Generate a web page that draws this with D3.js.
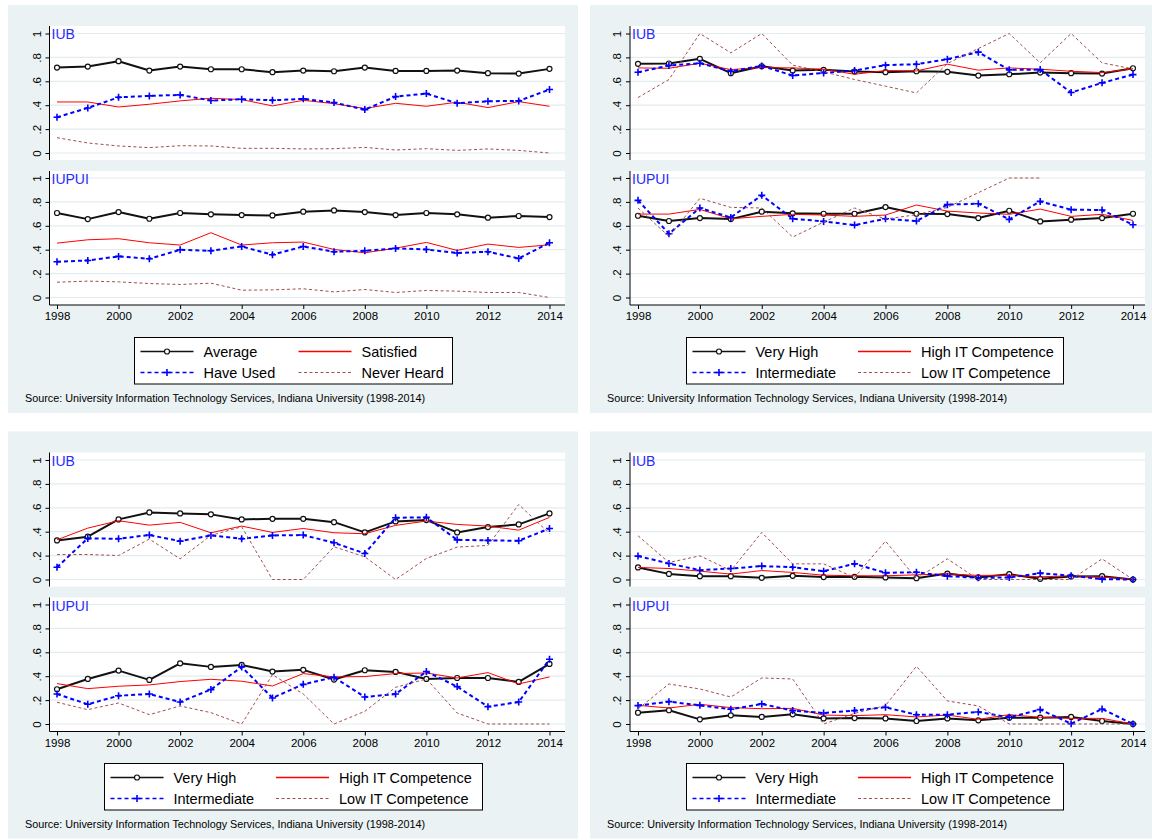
<!DOCTYPE html>
<html><head><meta charset="utf-8">
<script src="https://cdn.jsdelivr.net/npm/d3@7"></script>
<style>body{margin:0;background:#fff} svg{display:block} text{font-family:Arial,"Liberation Sans",sans-serif}</style>
</head><body><svg id="c" width="1152" height="840"></svg>
<script>
// ---------------- DATA ----------------
const years = [1998,1999,2000,2001,2002,2003,2004,2005,2006,2007,2008,2009,2010,2011,2012,2013,2014];
const xTicks = [1998,2000,2002,2004,2006,2008,2010,2012,2014];
const yTicks = [0,0.2,0.4,0.6,0.8,1];
const yTickLabels = ["0",".2",".4",".6",".8","1"];
const campuses = ["IUB","IUPUI"];
const usageLabels = ["Average","Satisfied","Have Used","Never Heard"];
const competenceLabels = ["Very High","High IT Competence","Intermediate","Low IT Competence"];
const sourceText = "Source: University Information Technology Services, Indiana University (1998-2014)";

// Panel A (top-left): usage
const aIUB_average   = [.715,.723,.768,.690,.723,.701,.701,.676,.690,.684,.715,.687,.687,.690,.668,.665,.704];
const aIUB_satisfied = [.427,.427,.385,.408,.436,.458,.447,.394,.441,.413,.372,.416,.391,.425,.380,.430,.391];
const aIUB_haveUsed  = [.299,.377,.466,.478,.486,.439,.450,.441,.453,.422,.363,.472,.497,.416,.433,.436,.531];
const aIUB_never     = [.128,.084,.059,.045,.061,.059,.039,.039,.034,.036,.047,.025,.036,.022,.034,.022,0];
const aIUPUI_average   = [.707,.656,.715,.659,.707,.696,.690,.687,.718,.729,.715,.690,.707,.696,.668,.682,.673];
const aIUPUI_satisfied = [.455,.483,.492,.458,.439,.542,.439,.458,.464,.402,.374,.413,.461,.394,.447,.419,.441];
const aIUPUI_haveUsed  = [.299,.310,.344,.324,.399,.391,.427,.358,.427,.383,.391,.411,.402,.372,.383,.327,.458];
const aIUPUI_never     = [.128,.137,.131,.117,.109,.120,.061,.064,.073,.047,.067,.042,.059,.053,.042,.042,0];

// Panel B (top-right)
const bIUB_veryHigh = [.746,.749,.788,.668,.726,.690,.696,.682,.676,.684,.679,.648,.659,.673,.668,.665,.709];
const bIUB_high     = [.712,.709,.751,.698,.715,.712,.701,.659,.690,.687,.743,.693,.712,.701,.684,.673,.704];
const bIUB_inter    = [.676,.732,.751,.684,.729,.648,.670,.690,.735,.743,.785,.844,.696,.698,.506,.587,.656];
const bIUB_low      = [.464,.615,1,.838,1,.735,.679,.615,.559,.503,.749,.874,1,.754,1,.754,.704];
const bIUPUI_veryHigh = [.684,.640,.665,.656,.718,.704,.701,.701,.757,.701,.698,.665,.726,.637,.651,.665,.701];
const bIUPUI_high     = [.698,.698,.737,.659,.679,.696,.690,.679,.690,.774,.723,.707,.696,.740,.679,.696,.645];
const bIUPUI_inter    = [.813,.534,.749,.670,.855,.659,.637,.606,.659,.640,.777,.785,.654,.804,.735,.732,.609];
const bIUPUI_low      = [.749,.511,.830,.754,.749,.506,.631,.749,.656,.693,.754,.877,1,1,null,null,null];

// Panel C (bottom-left)
const cIUB_veryHigh = [.327,.358,.503,.561,.553,.545,.503,.508,.508,.480,.394,.486,.497,.394,.439,.461,.553];
const cIUB_high     = [.332,.430,.492,.455,.478,.391,.447,.394,.427,.391,.383,.453,.489,.461,.447,.413,.520];
const cIUB_inter    = [.103,.344,.341,.372,.321,.369,.341,.369,.372,.307,.218,.517,.520,.332,.327,.324,.427];
const cIUB_low      = [.209,.209,.201,.338,.173,.369,.441,0,0,.274,.190,0,.176,.271,.285,.628,.385];
const cIUPUI_veryHigh = [.291,.377,.447,.369,.508,.478,.494,.439,.453,.372,.450,.436,.377,.385,.385,.352,.503];
const cIUPUI_high     = [.338,.296,.316,.327,.355,.374,.358,.318,.422,.394,.397,.422,.427,.385,.430,.335,.394];
const cIUPUI_inter    = [.251,.165,.237,.251,.184,.288,.478,.218,.332,.391,.226,.251,.439,.313,.145,.184,.542];
const cIUPUI_low      = [.182,.120,.176,.078,.151,.095,0,.413,.251,0,.106,.307,.377,.092,0,0,0];

// Panel D (bottom-right)
const dIUB_veryHigh = [.101,.047,.028,.028,.014,.031,.020,.022,.017,.011,.050,.017,.045,.006,.025,.028,0];
const dIUB_high     = [.101,.092,.070,.045,.075,.059,.036,.031,.031,.039,.047,.034,.036,.022,.031,.020,.003];
const dIUB_inter    = [.196,.134,.078,.092,.112,.103,.070,.131,.056,.061,.028,.014,.017,.053,.031,.003,0];
const dIUB_low      = [.366,.142,.198,.075,.394,.131,.131,.017,.321,.008,.173,0,0,0,0,.173,0];
const dIUPUI_veryHigh = [.095,.115,.039,.073,.059,.081,.047,.050,.047,.025,.047,.031,.053,.053,.059,.025,0];
const dIUPUI_high     = [.156,.134,.165,.137,.128,.131,.075,.070,.078,.059,.075,.039,.078,.056,.047,.047,0];
const dIUPUI_inter    = [.154,.187,.156,.123,.168,.112,.092,.112,.140,.078,.078,.101,.056,.120,.003,.126,0];
const dIUPUI_low      = [.126,.335,.293,.226,.385,.377,0,.089,.154,.483,.193,.151,0,0,0,0,0];

// ---------------- STYLE / LAYOUT ----------------
const styles = [
  {color:"#111", width:2, dash:null, marker:"circle", lw:1.6},
  {color:"#ff0000", width:1, dash:null, marker:null, lw:1.4},
  {color:"#0000ff", width:2, dash:"4,3", marker:"plus", lw:1.5},
  {color:"#a44e4e", width:1, dash:"3,2.5", marker:null, lw:1}
];
const BG = "#eaf2f3", GRID = "#e3ecee";

const panels = [
  {bx:8, by:5, bw:570, bh:408, axisX:49.5, plotR:565, x0:57, x1:549.5, dy:0, ldy:0,
   legend:{x:134.5, w:318, col2:158}, srcX:25, labels:usageLabels,
   series:[[aIUB_average,aIUB_satisfied,aIUB_haveUsed,aIUB_never],[aIUPUI_average,aIUPUI_satisfied,aIUPUI_haveUsed,aIUPUI_never]]},
  {bx:590, by:5, bw:562, bh:408, axisX:630, plotR:1145, x0:638, x1:1133, dy:0, ldy:0,
   legend:{x:686.5, w:377, col2:165.5}, srcX:607, labels:competenceLabels,
   series:[[bIUB_veryHigh,bIUB_high,bIUB_inter,bIUB_low],[bIUPUI_veryHigh,bIUPUI_high,bIUPUI_inter,bIUPUI_low]]},
  {bx:8, by:431.5, bw:570, bh:407, axisX:49.5, plotR:565, x0:57, x1:549.5, dy:426.5, ldy:426,
   legend:{x:104.5, w:378, col2:165.5}, srcX:25, labels:competenceLabels,
   series:[[cIUB_veryHigh,cIUB_high,cIUB_inter,cIUB_low],[cIUPUI_veryHigh,cIUPUI_high,cIUPUI_inter,cIUPUI_low]]},
  {bx:590, by:431.5, bw:562, bh:407, axisX:630, plotR:1145, x0:638, x1:1133, dy:426.5, ldy:426,
   legend:{x:686.5, w:377, col2:165.5}, srcX:607, labels:competenceLabels,
   series:[[dIUB_veryHigh,dIUB_high,dIUB_inter,dIUB_low],[dIUPUI_veryHigh,dIUPUI_high,dIUPUI_inter,dIUPUI_low]]}
];
// sub-plot vertical geometry (top panels; bottom panels offset by dy)
const subs = [{top:26, bot:160, y1:33.5, y0:153},{top:171, bot:305, y1:178, y0:297.5}];

const svg = d3.select("#c");

function drawMarker(g, type, x, y, st){
  if(type==="circle"){
    g.append("circle").attr("cx",x).attr("cy",y).attr("r",2.5)
     .attr("fill","#fff").attr("stroke",st.color).attr("stroke-width",1.2);
  } else if(type==="plus"){
    g.append("path").attr("d",`M${x-3.5},${y}H${x+3.5}M${x},${y-3.5}V${y+3.5}`)
     .attr("stroke",st.color).attr("stroke-width",1.6).attr("fill","none");
  }
}

panels.forEach(p=>{
  const G = svg.append("g");
  G.append("rect").attr("x",p.bx).attr("y",p.by).attr("width",p.bw).attr("height",p.bh).attr("fill",BG);
  const x = d3.scaleLinear().domain([years[0], years[years.length-1]]).range([p.x0,p.x1]);

  subs.forEach((s,si)=>{
    const top = s.top+p.dy, bot = s.bot+p.dy;
    const y = d3.scaleLinear().domain([0,1]).range([s.y0+p.dy, s.y1+p.dy]);
    const g = G.append("g");
    g.append("rect").attr("x",p.axisX).attr("y",top).attr("width",p.plotR-p.axisX).attr("height",bot-top).attr("fill","#fff");
    // gridlines
    g.selectAll(".grid").data(yTicks).join("line")
      .attr("x1",p.axisX).attr("x2",p.plotR)
      .attr("y1",d=>y(d)).attr("y2",d=>y(d))
      .attr("stroke",GRID).attr("stroke-width",1.2);
    // y axis
    const ya = d3.axisLeft(y).tickValues(yTicks).tickSize(4).tickFormat((d,i)=>yTickLabels[i]);
    const yag = g.append("g").attr("transform",`translate(${p.axisX},0)`).call(ya);
    yag.select(".domain").attr("d",`M0,${top}V${bot}`).attr("stroke","#000");
    yag.selectAll(".tick line").attr("stroke","#000");
    yag.selectAll(".tick text").attr("font-size","11.5px").attr("fill","#000")
      .attr("x",null).attr("dy",null).attr("text-anchor","middle")
      .attr("transform","translate(-9,0) rotate(-90)");
    // x axis for lower subplot
    if(si===1){
      const xa = d3.axisBottom(x).tickValues(xTicks).tickSize(4).tickFormat(d3.format("d"));
      const xag = g.append("g").attr("transform",`translate(0,${bot})`).call(xa);
      xag.select(".domain").attr("d",`M${p.axisX},0H${p.plotR}`).attr("stroke","#000");
      xag.selectAll(".tick line").attr("stroke","#000");
      xag.selectAll(".tick text").attr("font-size","11.5px").attr("fill","#000").attr("y",7).attr("dy","0.71em");
    }
    // series
    p.series[si].forEach((vals,k)=>{
      const st = styles[k];
      const pts = years.map((yr,i)=>({yr, v:vals[i]}));
      const line = d3.line().defined(d=>d.v!==null).x(d=>x(d.yr)).y(d=>y(d.v));
      g.append("path").attr("d",line(pts)).attr("fill","none")
        .attr("stroke",st.color).attr("stroke-width",st.width)
        .attr("stroke-dasharray",st.dash).attr("stroke-linejoin","round");
      if(st.marker){
        pts.filter(d=>d.v!==null).forEach(d=>drawMarker(g, st.marker, x(d.yr), y(d.v), st));
      }
    });
    // campus label
    g.append("text").attr("x",p.axisX+2).attr("y",top+13).attr("font-size","14px")
      .attr("fill","#2a2aff").text(campuses[si]);
  });

  // legend
  const L = p.legend, ly = 337.5+p.ldy, lh = 46.5;
  const lg = G.append("g");
  lg.append("rect").attr("x",L.x).attr("y",ly).attr("width",L.w).attr("height",lh)
    .attr("fill","#fff").attr("stroke","#000").attr("stroke-width",1);
  const rows = [351.5+p.ldy, 372.5+p.ldy];
  p.labels.forEach((lab,k)=>{
    const st = styles[k];
    const col = k%2, row = Math.floor(k/2);
    const sx = L.x + 6 + col*L.col2, ex = sx + 53, yy = rows[row];
    lg.append("line").attr("x1",sx).attr("x2",ex).attr("y1",yy).attr("y2",yy)
      .attr("stroke",st.color).attr("stroke-width",st.lw).attr("stroke-dasharray",st.dash);
    if(st.marker) drawMarker(lg, st.marker, (sx+ex)/2, yy, st);
    lg.append("text").attr("x",ex+10).attr("y",yy).attr("dy","0.36em")
      .attr("font-size","14.5px").attr("fill","#000").text(lab);
  });
  // source
  G.append("text").attr("x",p.srcX).attr("y",402+p.ldy).attr("font-size","10.8px").attr("fill","#000").text(sourceText);
});
</script></body></html>
